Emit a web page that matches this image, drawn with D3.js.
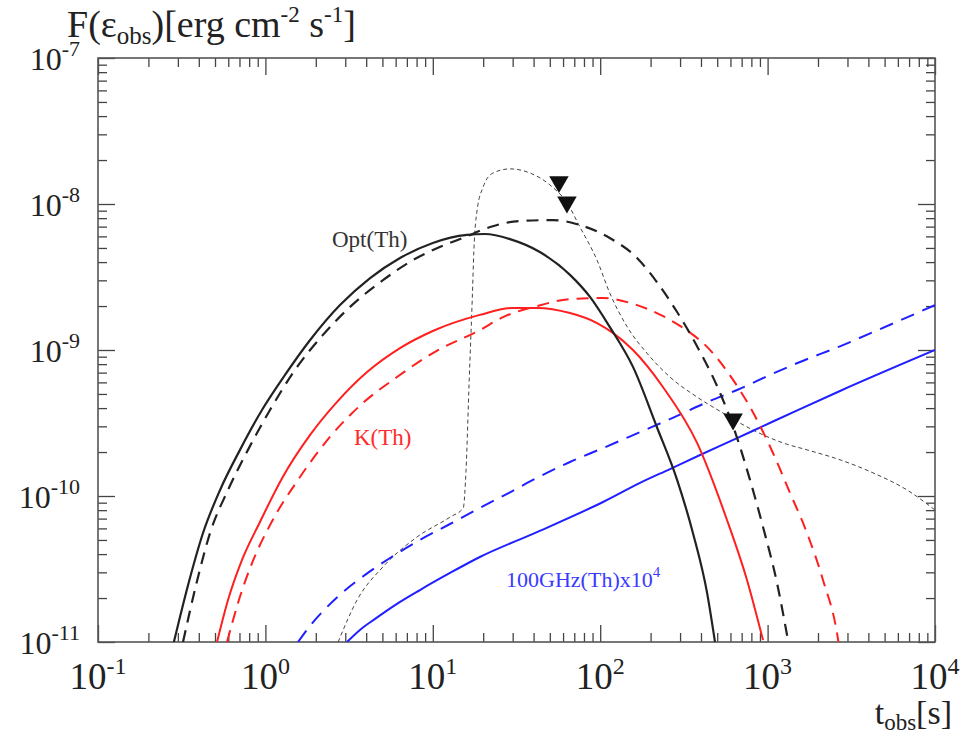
<!DOCTYPE html>
<html><head><meta charset="utf-8">
<script src="https://cdn.jsdelivr.net/npm/d3@7"></script>
<style>body{margin:0;background:#fff} svg{display:block}</style>
</head><body>
<svg id="c" width="974" height="738"></svg>
<script>
// ---- data (t in s, F in erg cm^-2 s^-1) ----
const optSolidT = [0.284,0.345,0.424,0.536,0.705,0.954,1.31,1.85,2.79,4.22,6.37,10.0,16.0,20.5,28.9,43.6,66.0,86.9,114,157,218,288,358,435,485];
const optSolidF = [1e-11,2.45e-11,5.58e-11,1.10e-10,2.07e-10,3.88e-10,6.75e-10,1.17e-9,2.03e-9,3.11e-9,4.27e-9,5.41e-9,6.14e-9,6.23e-9,5.75e-9,4.69e-9,3.27e-9,2.31e-9,1.44e-9,7.66e-10,2.97e-10,1.29e-10,5.58e-11,2.17e-11,1e-11];
const optDashT = [0.322,0.385,0.467,0.598,0.787,1.065,1.50,2.18,3.29,5.04,7.61,11.0,15.6,22.0,33.2,52.3,75.7,114,166,218,288,379,499,622,785,939,1138,1323];
const optDashF = [1e-11,2.45e-11,5.58e-11,1.10e-10,2.07e-10,3.88e-10,7.29e-10,1.25e-9,2.03e-9,3.01e-9,4.13e-9,5.07e-9,5.94e-9,6.95e-9,7.65e-9,7.76e-9,7.18e-9,5.85e-9,4.27e-9,2.92e-9,1.82e-9,1.06e-9,5.66e-10,3.01e-10,1.29e-10,6.14e-11,2.54e-11,1.03e-11];
const kSolidT = [0.514,0.598,0.725,0.928,1.27,1.85,2.68,4.05,6.37,10.0,19.1,30.1,41.9,66.0,95.7,119,157,237,379,572,753,939];
const kSolidF = [1e-11,1.94e-11,3.65e-11,6.64e-11,1.35e-10,2.62e-10,4.41e-10,7.06e-10,1.03e-9,1.35e-9,1.74e-9,1.94e-9,1.94e-9,1.79e-9,1.53e-9,1.31e-9,1.0e-9,5.58e-10,2.31e-10,6.85e-11,2.66e-11,1.03e-11];
const kDashT = [0.590,0.686,0.832,1.065,1.61,2.43,3.83,6.11,10.0,19.1,26.3,41.9,66.0,104,151,218,312,435,622,785,1077,1361,1719,2142,2598,2650];
const kDashF = [1e-11,1.85e-11,3.47e-11,6.32e-11,1.35e-10,2.54e-10,4.34e-10,6.53e-10,9.53e-10,1.37e-9,1.68e-9,2.0e-9,2.23e-9,2.27e-9,2.10e-9,1.79e-9,1.42e-9,1.05e-9,6.24e-10,4.07e-10,1.97e-10,1.05e-10,5.58e-11,2.66e-11,1.15e-11,1.0e-11];
const radioSolidT = [3.07,3.67,4.52,5.95,8.38,12.67,19.1,41.9,104,173,261,395,657,939,1561,2707,10000];
const radioSolidF = [1e-11,1.21e-11,1.44e-11,1.79e-11,2.27e-11,2.97e-11,3.82e-11,5.66e-11,9.10e-11,1.23e-10,1.53e-10,1.91e-10,2.49e-10,3.01e-10,3.94e-10,5.24e-10,1e-9];
const radioDashT = [1.566,1.846,2.27,2.91,3.94,5.55,8.38,12.67,19.1,28.9,41.9,66.0,104,173,261,453,657,1033,1561,2707,4692,10000];
const radioDashF = [1e-11,1.29e-11,1.68e-11,2.20e-11,2.88e-11,3.76e-11,5.0e-11,6.43e-11,8.28e-11,1.06e-10,1.33e-10,1.71e-10,2.13e-10,2.74e-10,3.36e-10,4.48e-10,5.32e-10,6.75e-10,8.28e-10,1.06e-9,1.39e-9,2.03e-9];
const obsT = [2.72,3.53,5.04,8.05,12.7,15.2,15.8,16.5,17.2,17.6,18.4,20.0,22.9,28.9,38.1,50.1,63.3,75.7,95.7,114,145,190,261,379,542,818,1236,1719,2707,4262,6803,10000];
const obsF = [1e-11,1.94e-11,3.27e-11,5.24e-11,7.18e-11,8.28e-11,1.51e-10,6.24e-10,2.20e-9,4.84e-9,9.10e-9,1.31e-8,1.63e-8,1.74e-8,1.63e-8,1.35e-8,1.02e-8,6.95e-9,4.13e-9,2.46e-9,1.44e-9,9.53e-10,6.53e-10,4.76e-10,3.70e-10,2.83e-10,2.31e-10,2.07e-10,1.77e-10,1.44e-10,1.10e-10,8.02e-11];
const limitT = [56.7,63.3,622];
const limitF = [1.42e-8,1.03e-8,3.36e-10];
const xTickExp = [-1,0,1,2,3,4];
const yTickExp = [-11,-10,-9,-8,-7];
const curveLabels = [
  {text:"Opt(Th)", t:2.5, f:5.07e-9, color:"#333"},
  {text:"K(Th)", t:3.38, f:2.23e-10, color:"#ff2a2a"}
];
const radioLabel = {text:"100GHz(Th)x10", sup:"4", t:27.4, f:2.38e-11, color:"#3a3aff"};

// ---- layout ----
const svg = d3.select("#c");
const L=98, R=935, T=58, B=642;
const x = d3.scaleLog().domain([1e-1,1e4]).range([L,R]);
const y = d3.scaleLog().domain([1e-11,1e-7]).range([B,T]);
const serif = "'Liberation Serif','Times New Roman',serif";

svg.append("defs").append("clipPath").attr("id","clip")
  .append("rect").attr("x",L).attr("y",T).attr("width",R-L).attr("height",B-T);

// ticks
const majX = xTickExp.map(e=>Math.pow(10,e));
const minX = []; for(let e=-1;e<4;e++) for(let k=2;k<10;k++) minX.push(k*Math.pow(10,e));
const majY = yTickExp.map(e=>Math.pow(10,e));
const minY = []; for(let e=-11;e<-7;e++) for(let k=2;k<10;k++) minY.push(k*Math.pow(10,e));

function axisG(axis, tx, ty){
  const g = svg.append("g").attr("transform",`translate(${tx},${ty})`).call(axis);
  g.select(".domain").remove();
  g.selectAll("line").attr("stroke","#444").attr("stroke-width",1.3);
  g.selectAll("text").remove();
}
[[majX,17],[minX,9]].forEach(([v,s])=>{
  axisG(d3.axisBottom(x).tickValues(v).tickSize(-s).tickFormat(""),0,B);
  axisG(d3.axisTop(x).tickValues(v).tickSize(-s).tickFormat(""),0,T);
});
[[majY,17],[minY,9]].forEach(([v,s])=>{
  axisG(d3.axisLeft(y).tickValues(v).tickSize(-s).tickFormat(""),L,0);
  axisG(d3.axisRight(y).tickValues(v).tickSize(-s).tickFormat(""),R,0);
});

svg.append("rect").attr("x",L).attr("y",T).attr("width",R-L).attr("height",B-T)
  .attr("fill","none").attr("stroke","#555").attr("stroke-width",1.6);

// tick labels
xTickExp.forEach(e=>{
  const t = svg.append("text").attr("x",x(Math.pow(10,e))).attr("y",B+47)
    .attr("text-anchor","middle").attr("font-family",serif).attr("font-size",37).attr("fill","#222");
  t.append("tspan").text("10");
  t.append("tspan").attr("dy",-15).attr("font-size",24).text(e<0?"-"+(-e):String(e));
});
yTickExp.forEach(e=>{
  const t = svg.append("text").attr("x",L-18).attr("y",y(Math.pow(10,e))+12)
    .attr("text-anchor","end").attr("font-family",serif).attr("font-size",32).attr("fill","#222");
  t.append("tspan").text("10");
  t.append("tspan").attr("dy",-14).attr("font-size",22).text("-"+(-e));
});

// axis titles
const yt = svg.append("text").attr("x",67).attr("y",37).attr("font-family",serif).attr("font-size",38).attr("fill","#222");
yt.append("tspan").text("F(ε");
yt.append("tspan").attr("dy",7).attr("font-size",25).text("obs");
yt.append("tspan").attr("dy",-7).text(")[erg cm");
yt.append("tspan").attr("dy",-15).attr("font-size",23).text("-2");
yt.append("tspan").attr("dy",15).text(" s");
yt.append("tspan").attr("dy",-15).attr("font-size",23).text("-1");
yt.append("tspan").attr("dy",15).text("]");

const xt = svg.append("text").attr("x",952).attr("y",724).attr("text-anchor","end").attr("font-family",serif).attr("font-size",34).attr("fill","#222");
xt.append("tspan").text("t");
xt.append("tspan").attr("dy",6).attr("font-size",23).text("obs");
xt.append("tspan").attr("dy",-6).text("[s]");

// curves
const line = d3.line().x(d=>x(d[0])).y(d=>y(d[1])).curve(d3.curveMonotoneX);
const plot = svg.append("g").attr("clip-path","url(#clip)");
const series = [
  {t:obsT, f:obsF, color:"#444", w:1, dash:"4,3"},
  {t:radioDashT, f:radioDashF, color:"#1f1fff", w:2, dash:"14,9"},
  {t:radioSolidT, f:radioSolidF, color:"#1f1fff", w:2, dash:null},
  {t:kDashT, f:kDashF, color:"#ff1f1f", w:2, dash:"12,8"},
  {t:kSolidT, f:kSolidF, color:"#ff1f1f", w:2, dash:null},
  {t:optDashT, f:optDashF, color:"#222", w:2.2, dash:"12,8"},
  {t:optSolidT, f:optSolidF, color:"#222", w:2.2, dash:null}
];
series.forEach(s=>{
  plot.append("path").datum(s.t.map((t,i)=>[t,s.f[i]])).attr("d",line)
    .attr("fill","none").attr("stroke",s.color).attr("stroke-width",s.w)
    .attr("stroke-dasharray",s.dash);
});

// upper limits
plot.selectAll(".lim").data(limitT.map((t,i)=>[t,limitF[i]])).enter().append("path")
  .attr("d",d3.symbol(d3.symbolTriangle,165))
  .attr("transform",d=>`translate(${x(d[0])},${y(d[1])}) rotate(180)`)
  .attr("fill","#111");

// labels
curveLabels.forEach(l=>{
  svg.append("text").attr("x",x(l.t)).attr("y",y(l.f)).attr("font-family",serif)
    .attr("font-size",23).attr("fill",l.color).text(l.text);
});
const rl = svg.append("text").attr("x",x(radioLabel.t)).attr("y",y(radioLabel.f)).attr("font-family",serif)
  .attr("font-size",22).attr("fill",radioLabel.color);
rl.append("tspan").text(radioLabel.text);
rl.append("tspan").attr("dy",-10).attr("font-size",15).text(radioLabel.sup);
</script>
</body></html>
